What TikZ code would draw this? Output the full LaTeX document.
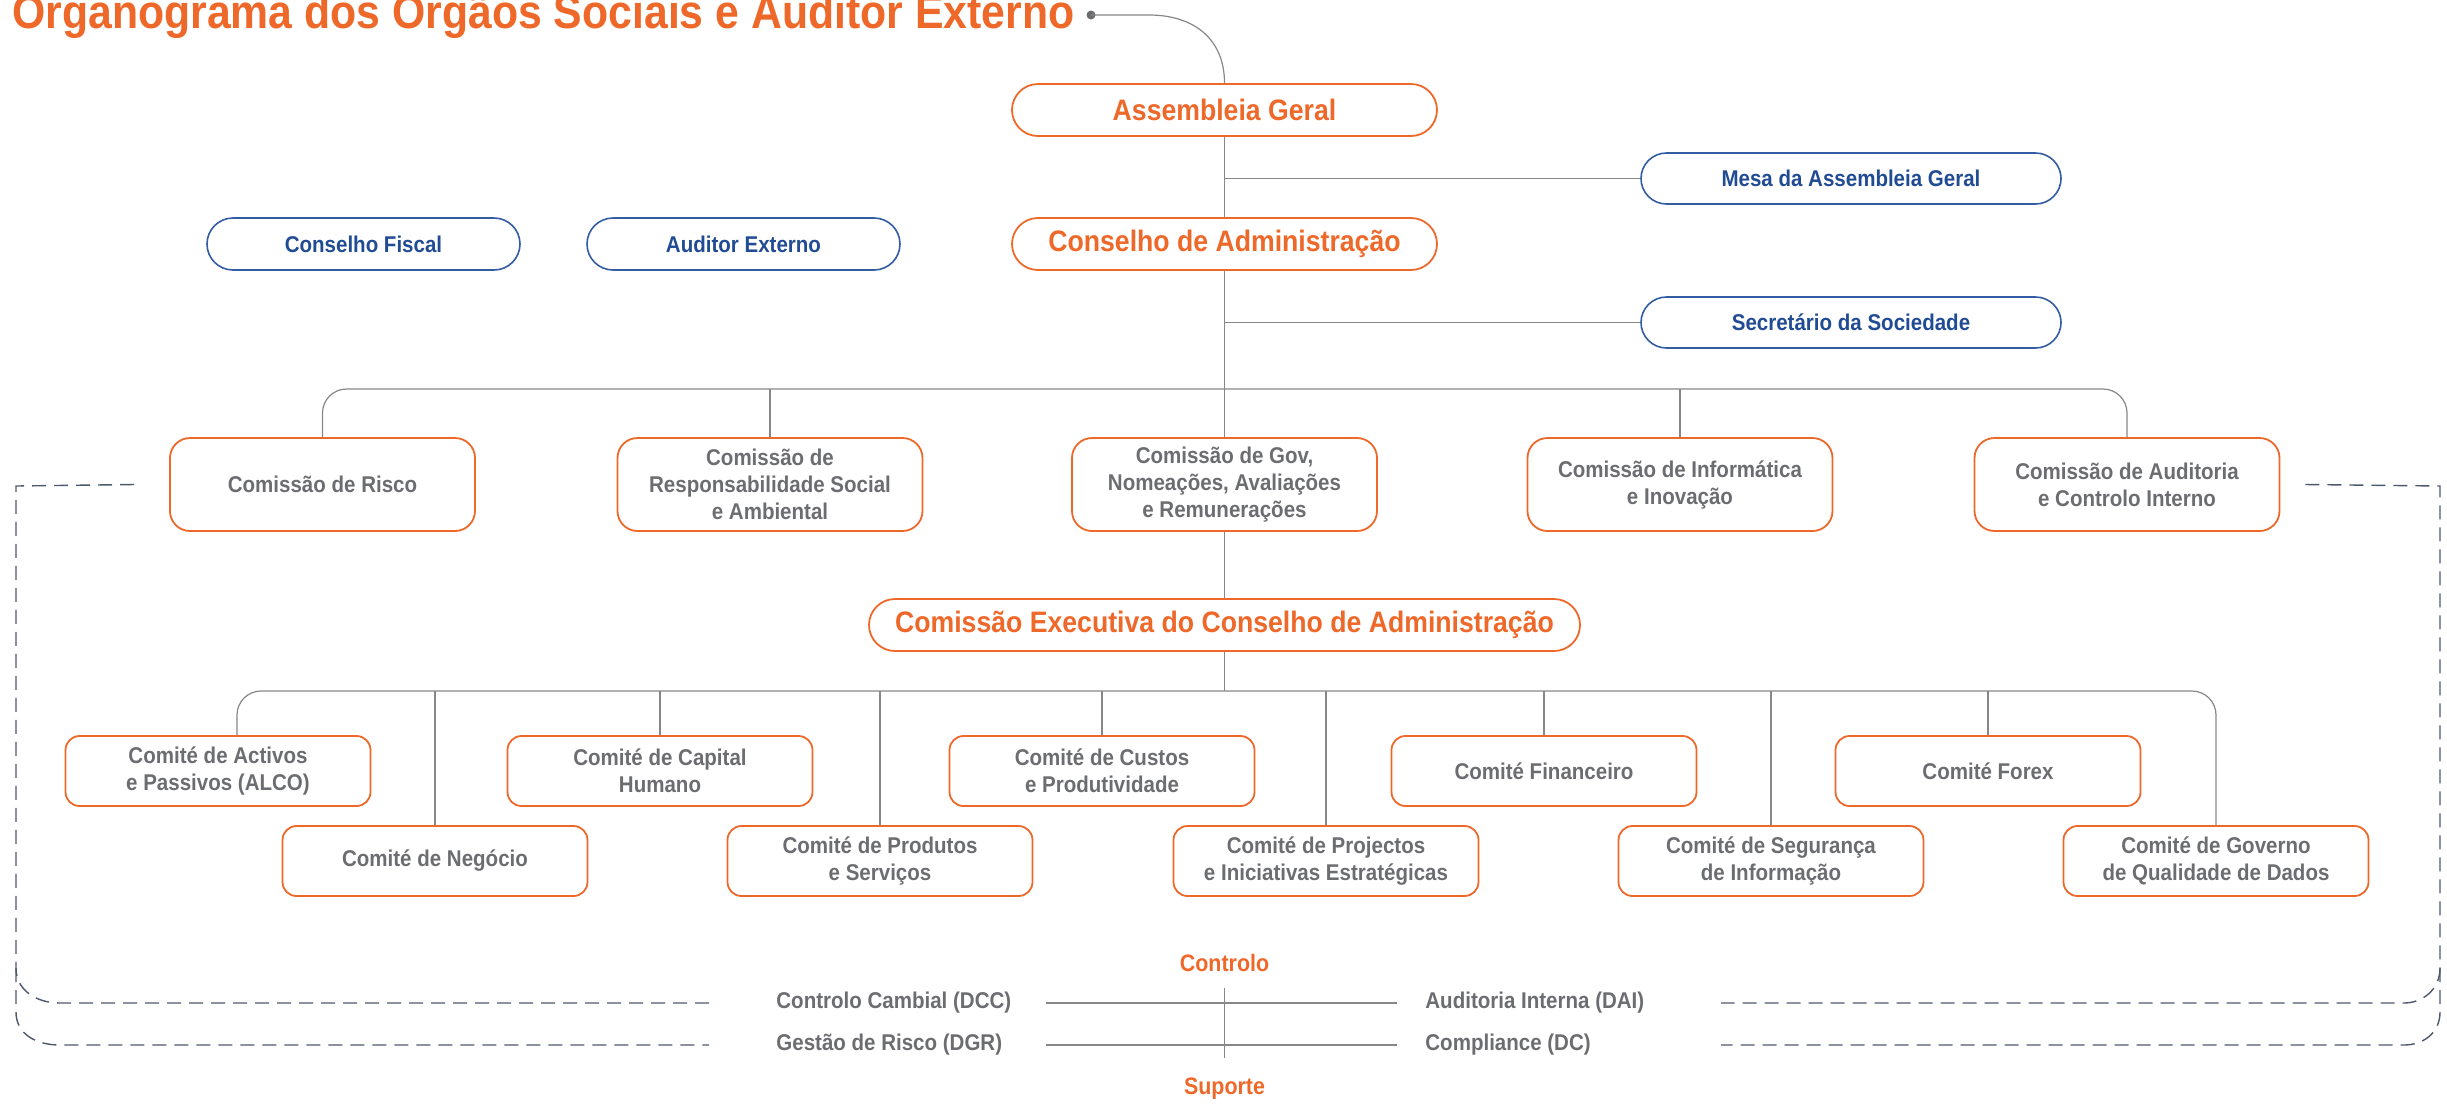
\documentclass[tikz,border=0pt]{standalone}
\usepackage{fontspec}
\setmainfont{Liberation Sans}[FakeStretch=0.9]
\usepackage{tikz}
\usetikzlibrary{calc}
\definecolor{orgorange}{RGB}{238,104,42}
\definecolor{orgblue}{RGB}{33,76,148}
\definecolor{orgbluel}{RGB}{52,92,162}
\definecolor{orggray}{RGB}{108,109,112}
\definecolor{orgline}{RGB}{135,135,135}
\definecolor{orgdash}{RGB}{78,88,108}
\tikzset{main label/.style={font=\bfseries\fontsize{14.8}{17}\selectfont,text=orgorange},
	box label/.style={font=\bfseries\fontsize{11.4}{13.5}\selectfont,text=orggray,align=center},
	organ box/.style={main label,draw=orgorange,line width=0.9pt,rounded corners=13pt,minimum width=212.5pt,minimum height=26pt,inner sep=0pt},
	ext box/.style={box label,text=orgblue,draw=orgbluel,line width=0.8pt,rounded corners=12.75pt,minimum height=25.5pt,inner sep=0pt},
	com box/.style={box label,draw=orgorange,line width=0.9pt,rounded corners=10pt,minimum width=152.5pt,minimum height=46.5pt,inner sep=0pt},
	comite box/.style={box label,draw=orgorange,line width=0.9pt,rounded corners=7pt,minimum width=152.5pt,minimum height=35pt,inner sep=0pt},
	link/.style={draw=orgline,line width=0.6pt},
	dash link/.style={draw=orgdash,line width=0.7pt,dash pattern=on 7pt off 4pt},
	dept label/.style={box label,inner sep=0pt},
	area label/.style={main label,font=\bfseries\fontsize{11.9}{14}\selectfont,inner sep=0pt}}

\begin{document}
\begin{tikzpicture}[x=0.5pt,y=-0.5pt]
	\useasboundingbox (0,0) rectangle (2447,1105);

	\node[anchor=base west,inner sep=0pt,text=orgorange,font=\bfseries\fontsize{23.75}{28}\selectfont] (title) at (12,28) {Organograma dos Órgãos Sociais e Auditor Externo};
	\node[circle,fill=orggray,inner sep=0pt,minimum size=4.5pt] (dot) at (1091,15) {};

	\node[organ box] (ag) at (1224.5,110) {Assembleia Geral};
	\node[ext box,minimum width=210pt] (mesa) at (1851,178.5) {Mesa da Assembleia Geral};
	\node[organ box] (ca) at (1224.5,244) {Conselho de Administração};
	\node[ext box,minimum width=156.5pt,minimum height=26pt,rounded corners=13pt] (cf) at (363.5,244) {Conselho Fiscal};
	\node[ext box,minimum width=156.5pt,minimum height=26pt,rounded corners=13pt] (ae) at (743.5,244) {Auditor Externo};
	\node[ext box,minimum width=210pt] (sec) at (1851,322.5) {Secretário da Sociedade};

	\node[com box] (risco) at (322.5,484.5) {Comissão de Risco};
	\node[com box] (resp) at (770,484.5) {Comissão de\\Responsabilidade Social\\e Ambiental};
	\node[com box] (gov) at (1224.5,484.5) {Comissão de Gov,\\Nomeações, Avaliações\\e Remunerações};
	\node[com box] (inf) at (1680,484.5) {Comissão de Informática\\e Inovação};
	\node[com box] (audit) at (2127,484.5) {Comissão de Auditoria\\e Controlo Interno};

	\node[organ box,minimum width=355.5pt] (exec) at (1224.5,625) {Comissão Executiva do Conselho de Administração};

	\node[comite box] (activos) at (218,771) {Comité de Activos\\e Passivos (ALCO)};
	\node[comite box] (capital) at (660,771) {Comité de Capital\\Humano};
	\node[comite box] (custos) at (1102,771) {Comité de Custos\\e Produtividade};
	\node[comite box] (financeiro) at (1544,771) {Comité Financeiro};
	\node[comite box] (forex) at (1988,771) {Comité Forex};
	\node[comite box] (negocio) at (435,861) {Comité de Negócio};
	\node[comite box] (produtos) at (880,861) {Comité de Produtos\\e Serviços};
	\node[comite box] (projectos) at (1326,861) {Comité de Projectos\\e Iniciativas Estratégicas};
	\node[comite box] (seguranca) at (1771,861) {Comité de Segurança\\de Informação};
	\node[comite box] (governo) at (2216,861) {Comité de Governo\\de Qualidade de Dados};

	\node[area label] (ctrl) at (1224.5,963) {Controlo};
	\node[area label] (sup) at (1224.5,1089) {Suporte};
	\node[dept label,anchor=west] (dcc) at (776,1003) {Controlo Cambial (DCC)};
	\node[dept label,anchor=west] (dgr) at (776,1045) {Gestão de Risco (DGR)};
	\node[dept label,anchor=west] (dai) at (1425,1003) {Auditoria Interna (DAI)};
	\node[dept label,anchor=west] (dc) at (1425,1045) {Compliance (DC)};

	\coordinate (bus1) at (1224.5,389);
	\coordinate (bus2) at (1224.5,691);
	\coordinate (lx) at (1046,1003);
	\coordinate (rx) at (1397,1003);
	\coordinate (ctop) at (1224.5,988);
	\coordinate (cbot) at (1224.5,1058);
	\coordinate (lbend) at (16,486);
	\coordinate (rbend) at (2440,486);

	\draw[link] (dot.center) -- ++(58,0) .. controls +(45,0) and +(0,-44) .. (ag.north);
	\draw[link] (ag.south) -- (ca.north);
	\draw[link] (mesa.west) -- (mesa.west -| ag.south);
	\draw[link] (sec.west) -- (sec.west -| ca.south);
	\draw[link] (ca.south) -- (gov.north);
	\draw[link,rounded corners=12pt] (risco.north) |- (bus1) -| (audit.north);
	\foreach \n in {resp,inf}
		\draw[link] (\n.north) -- (\n.north |- bus1);
	\draw[link] (gov.south) -- (exec.north);
	\draw[link] (exec.south) -- (bus2);
	\draw[link,rounded corners=12pt] ([xshift=9.5pt]activos.north) |- (bus2) -| (governo.north);
	\foreach \n in {capital,custos,financeiro,forex,negocio,produtos,projectos,seguranca}
		\draw[link] (\n.north) -- (\n.north |- bus2);

	\draw[link] (ctop) -- (cbot);
	\draw[link] (dcc -| lx) -- (dcc -| rx);
	\draw[link] (dgr -| lx) -- (dgr -| rx);

	\draw[dash link] ([xshift=-17.5pt]risco.west) -- (lbend) -- (16,968) .. controls (16,990) and (36,1003) .. (60,1003) -- (709,1003);
	\draw[dash link] (16,968) -- (16,1012) .. controls (16,1034) and (36,1045) .. (60,1045) -- (709,1045);
	\draw[dash link] ([xshift=12.5pt]audit.east) -- (rbend) -- (2440,968) .. controls (2440,990) and (2422,1003) .. (2404,1003) -- (1721,1003);
	\draw[dash link] (2440,968) -- (2440,1012) .. controls (2440,1034) and (2422,1045) .. (2404,1045) -- (1721,1045);
\end{tikzpicture}
\end{document}
